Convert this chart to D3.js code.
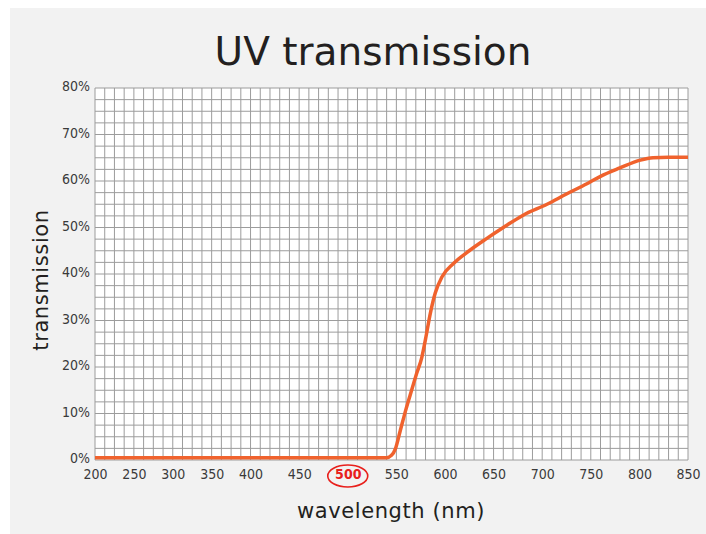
<!DOCTYPE html>
<html>
<head>
<meta charset="utf-8">
<script src="https://cdn.jsdelivr.net/npm/d3@7"></script>
<style>
  body { margin: 0; background: #fff; }
  svg { display: block; }
</style>
</head>
<body>
<svg id="canvas"></svg>
<script>
// curve: wavelength (nm) -> transmission (%)
const wavelength = [200, 540, 545, 549, 554, 560, 566, 571, 576, 580, 585, 590, 597, 609, 625, 642, 660, 680, 705, 725, 746, 760, 780, 801, 814, 830, 850]
const transmission = [0.5, 0.5, 1.0, 2.4, 6.3, 11.0, 15.2, 18.7, 21.9, 26, 31.6, 35.9, 39.4, 42.3, 45.0, 47.5, 50.0, 52.6, 55.0, 57.2, 59.4, 61.0, 62.8, 64.5, 65.0, 65.1, 65.1]

const xTicks = [200, 250, 300, 350, 400, 450, 500, 550, 600, 650, 700, 750, 800, 850]
const yTicks = [0, 10, 20, 30, 40, 50, 60, 70, 80]
const highlightTick = 500

let width = 706
let height = 534
let plotLeft = 95, plotRight = 688, plotTop = 88, plotBottom = 460

const svg = d3.select('#canvas')
    .attr('width', width)
    .attr('height', height)

svg.append('rect')
    .attr('x', 10).attr('y', 8)
    .attr('width', width - 10).attr('height', height - 8)
    .attr('fill', '#f2f2f2')

// grid cells are the same width everywhere, but 200-400 has 12.5nm cells, 400-850 has 10nm cells
const cell = (plotRight - plotLeft) / 61
const xScale = d3.scaleLinear()
    .domain([200, 400, 850])
    .range([plotLeft, plotLeft + 16 * cell, plotRight])

const yScale = d3.scaleLinear()
    .domain([0, 80])
    .range([plotBottom, plotTop])

svg.append('rect')
    .attr('x', plotLeft).attr('y', plotTop)
    .attr('width', plotRight - plotLeft).attr('height', plotBottom - plotTop)
    .attr('fill', '#fff')

const vLines = d3.range(200, 400, 12.5).concat(d3.range(400, 850.1, 10))
const hLines = d3.range(0, 80.1, 2.5)

svg.append('g')
    .selectAll('line')
    .data(vLines)
    .enter()
    .append('line')
    .attr('x1', d => xScale(d)).attr('x2', d => xScale(d))
    .attr('y1', plotTop).attr('y2', plotBottom)
    .attr('stroke', '#9c9c9c')
    .attr('stroke-width', 1)

svg.append('g')
    .selectAll('line')
    .data(hLines)
    .enter()
    .append('line')
    .attr('y1', d => yScale(d)).attr('y2', d => yScale(d))
    .attr('x1', plotLeft).attr('x2', plotRight)
    .attr('stroke', '#9c9c9c')
    .attr('stroke-width', 1)

const tickFont = '"DejaVu Sans Condensed", "DejaVu Sans", sans-serif'

let xAxis = d3.axisBottom(xScale)
    .tickValues(xTicks)
    .tickSize(0)
    .tickPadding(9)
    .tickFormat(d => d)

const gx = svg.append('g')
    .attr('id', 'x-axis')
    .attr('transform', 'translate(0, ' + plotBottom + ')')
    .call(xAxis)
gx.select('.domain').remove()
gx.selectAll('text')
    .attr('font-family', tickFont)
    .attr('font-stretch', 'condensed')
    .attr('font-size', 14)
    .attr('fill', '#3a3a3a')
    .filter(d => d === highlightTick)
    .attr('fill', '#e8201c')
    .attr('font-weight', 'bold')

svg.append('ellipse')
    .attr('cx', xScale(highlightTick))
    .attr('cy', plotBottom + 16)
    .attr('rx', 20)
    .attr('ry', 11)
    .attr('fill', 'none')
    .attr('stroke', '#e8201c')
    .attr('stroke-width', 1.6)

let yAxis = d3.axisLeft(yScale)
    .tickValues(yTicks)
    .tickSize(0)
    .tickPadding(5)
    .tickFormat(d => d + '%')

const gy = svg.append('g')
    .attr('id', 'y-axis')
    .attr('transform', 'translate(' + plotLeft + ', 0)')
    .call(yAxis)
gy.select('.domain').remove()
gy.selectAll('text')
    .attr('font-family', tickFont)
    .attr('font-stretch', 'condensed')
    .attr('font-size', 14)
    .attr('fill', '#3a3a3a')
    .attr('dy', '0.2em')

const points = wavelength.map((w, i) => [w, transmission[i]])

const line = d3.line()
    .x(d => xScale(d[0]))
    .y(d => yScale(d[1]))
    .curve(d3.curveMonotoneX)

svg.append('path')
    .datum(points)
    .attr('d', line)
    .attr('fill', 'none')
    .attr('stroke', '#f0622d')
    .attr('stroke-width', 3.5)
    .attr('stroke-linejoin', 'round')

const labelFont = '"DejaVu Sans", Lato, sans-serif'

svg.append('text')
    .attr('x', 373)
    .attr('y', 65)
    .attr('text-anchor', 'middle')
    .attr('font-family', labelFont)
    .attr('font-size', 39)
    .attr('fill', '#231f20')
    .text('UV transmission')

svg.append('text')
    .attr('x', 391)
    .attr('y', 518)
    .attr('text-anchor', 'middle')
    .attr('font-family', labelFont)
    .attr('font-size', 21)
    .attr('letter-spacing', 0.6)
    .attr('fill', '#231f20')
    .text('wavelength (nm)')

svg.append('text')
    .attr('transform', 'translate(48, 280) rotate(-90)')
    .attr('text-anchor', 'middle')
    .attr('font-family', labelFont)
    .attr('font-size', 21)
    .attr('letter-spacing', 0.6)
    .attr('fill', '#231f20')
    .text('transmission')
</script>
</body>
</html>
